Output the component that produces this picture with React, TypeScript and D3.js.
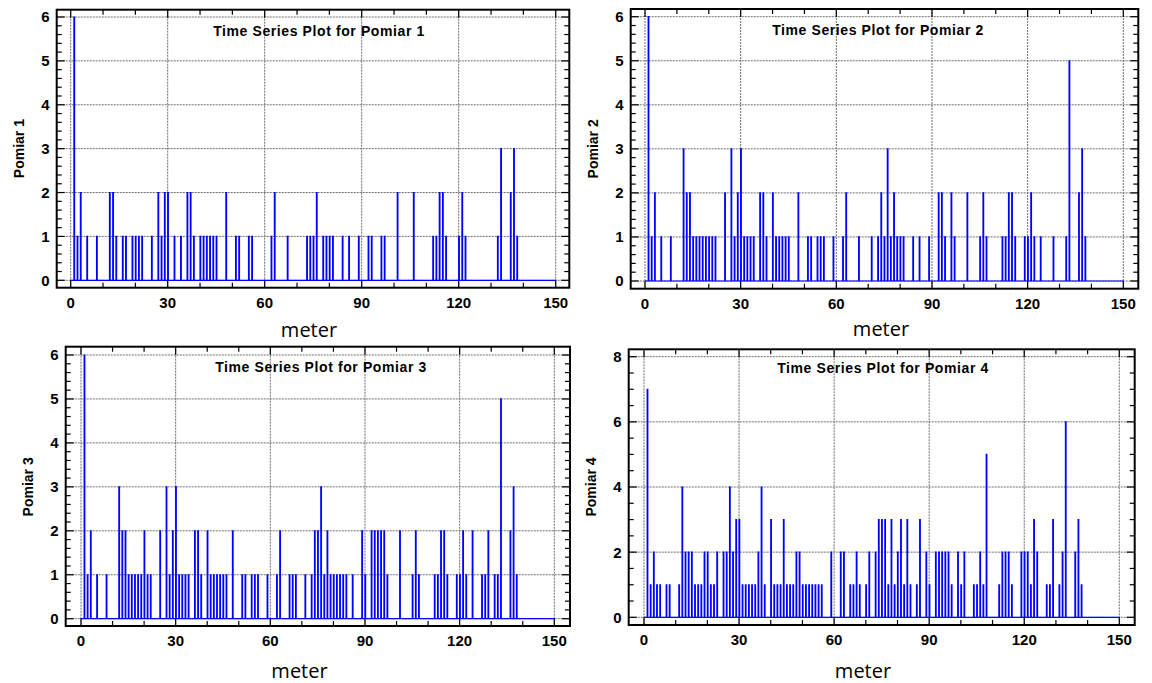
import React, { useEffect, useRef } from "react";
import * as d3 from "d3";

type Spike = [number, number]; // [meter, count]

const meterTicks = [0, 30, 60, 90, 120, 150];

const pomiar1: Spike[] = [
  [1, 6], [2, 1], [3, 2], [5, 1], [8, 1], [12, 2], [13, 2], [14, 1], [16, 1], [17, 1],
  [19, 1], [20, 1], [21, 1], [22, 1], [25, 1], [27, 2], [28, 1], [29, 2], [30, 2], [32, 1],
  [34, 1], [36, 2], [37, 2], [38, 1], [40, 1], [41, 1], [42, 1], [43, 1], [44, 1], [45, 1],
  [48, 2], [51, 1], [52, 1], [55, 1], [56, 1], [62, 1], [63, 2], [67, 1], [73, 1], [74, 1],
  [75, 1], [76, 2], [78, 1], [79, 1], [80, 1], [81, 1], [84, 1], [86, 1], [89, 1], [92, 1],
  [93, 1], [96, 1], [97, 1], [101, 2], [106, 2], [112, 1], [113, 1], [114, 2], [115, 2],
  [116, 1], [120, 1], [121, 2], [122, 1], [132, 1], [133, 3], [136, 2], [137, 3], [138, 1],
];

const pomiar2: Spike[] = [
  [1, 6], [2, 1], [3, 2], [5, 1], [8, 1], [12, 3], [13, 2], [14, 2], [15, 1], [16, 1],
  [17, 1], [18, 1], [19, 1], [20, 1], [21, 1], [22, 1], [25, 2], [27, 3], [28, 1], [29, 2],
  [30, 3], [31, 1], [32, 1], [33, 1], [34, 1], [36, 2], [37, 2], [38, 1], [40, 2], [41, 1],
  [42, 1], [43, 1], [44, 1], [45, 1], [48, 2], [51, 1], [52, 1], [54, 1], [55, 1], [56, 1],
  [59, 1], [62, 1], [63, 2], [67, 1], [71, 1], [73, 1], [74, 2], [75, 1], [76, 3], [77, 1],
  [78, 2], [79, 1], [80, 1], [81, 1], [84, 1], [86, 1], [89, 1], [92, 2], [93, 2], [94, 1],
  [96, 2], [97, 1], [101, 2], [105, 1], [106, 2], [107, 1], [112, 1], [113, 1], [114, 2],
  [115, 2], [116, 1], [119, 1], [120, 1], [121, 2], [122, 1], [124, 1], [128, 1], [132, 1],
  [133, 5], [136, 2], [137, 3], [138, 1],
];

const pomiar3: Spike[] = [
  [1, 6], [2, 1], [3, 2], [5, 1], [8, 1], [12, 3], [13, 2], [14, 2], [15, 1], [16, 1],
  [17, 1], [18, 1], [19, 1], [20, 2], [21, 1], [22, 1], [25, 2], [27, 3], [28, 1], [29, 2],
  [30, 3], [31, 1], [32, 1], [33, 1], [34, 1], [36, 2], [37, 2], [38, 1], [40, 2], [41, 1],
  [42, 1], [43, 1], [44, 1], [45, 1], [46, 1], [48, 2], [51, 1], [52, 1], [54, 1], [55, 1],
  [56, 1], [59, 1], [62, 1], [63, 2], [66, 1], [67, 1], [68, 1], [71, 1], [73, 1], [74, 2],
  [75, 2], [76, 3], [77, 1], [78, 2], [79, 1], [80, 1], [81, 1], [82, 1], [83, 1], [84, 1],
  [86, 1], [89, 2], [90, 1], [92, 2], [93, 2], [94, 2], [95, 2], [96, 2], [97, 1], [101, 2],
  [105, 1], [106, 2], [107, 1], [112, 1], [113, 1], [114, 2], [115, 2], [116, 1], [119, 1],
  [120, 1], [121, 2], [122, 1], [124, 2], [127, 1], [128, 1], [129, 2], [131, 1], [132, 1],
  [133, 5], [136, 2], [137, 3], [138, 1],
];

const pomiar4: Spike[] = [
  [1, 7], [2, 1], [3, 2], [4, 1], [5, 1], [7, 1], [8, 1], [11, 1], [12, 4], [13, 2],
  [14, 2], [15, 2], [16, 1], [17, 1], [18, 1], [19, 2], [20, 2], [21, 1], [22, 1], [23, 2],
  [25, 2], [26, 2], [27, 4], [28, 2], [29, 3], [30, 3], [31, 1], [32, 1], [33, 1], [34, 1],
  [35, 1], [36, 2], [37, 4], [38, 1], [40, 3], [41, 1], [42, 1], [43, 1], [44, 3], [45, 1],
  [46, 1], [47, 1], [48, 2], [49, 2], [50, 1], [51, 1], [52, 1], [53, 1], [54, 1], [55, 1],
  [56, 1], [59, 2], [62, 2], [63, 2], [65, 1], [66, 1], [67, 2], [68, 1], [70, 1], [71, 2],
  [73, 2], [74, 3], [75, 3], [76, 3], [77, 1], [78, 3], [79, 1], [80, 2], [81, 3], [82, 1],
  [83, 3], [84, 1], [86, 1], [87, 3], [89, 2], [90, 1], [92, 2], [93, 2], [94, 2], [95, 2],
  [96, 2], [97, 1], [99, 2], [100, 1], [101, 2], [104, 1], [105, 1], [106, 2], [107, 1],
  [108, 5], [112, 1], [113, 2], [114, 2], [115, 2], [116, 1], [119, 2], [120, 2], [121, 2],
  [122, 1], [123, 3], [124, 2], [127, 1], [128, 1], [129, 3], [131, 1], [132, 2], [133, 6],
  [136, 2], [137, 3], [138, 1],
];

interface PanelSpec {
  name: string;
  data: Spike[];
  yMax: number;
  yStep: number;
  yMinor: number;
  frame: [number, number, number, number]; // left, top, right, bottom
  plot: [number, number, number, number];
  titleX: number;
  titleY: number;
  meterX: number;
  meterY: number;
}

const panels: PanelSpec[] = [
  {
    name: "Pomiar 1", data: pomiar1, yMax: 6, yStep: 1, yMinor: 0.2,
    frame: [56.7, 9.7, 569.3, 287.7], plot: [70.7, 17, 555.7, 280.3],
    titleX: 319, titleY: 35.7, meterX: 309, meterY: 336.5,
  },
  {
    name: "Pomiar 2", data: pomiar2, yMax: 6, yStep: 1, yMinor: 0.2,
    frame: [630.7, 9, 1138.3, 288.7], plot: [645, 16.7, 1123.3, 281],
    titleX: 878, titleY: 35, meterX: 881, meterY: 336,
  },
  {
    name: "Pomiar 3", data: pomiar3, yMax: 6, yStep: 1, yMinor: 0.2,
    frame: [65.7, 346.7, 570, 626], plot: [81, 355, 554.3, 618.7],
    titleX: 321, titleY: 371.7, meterX: 299.5, meterY: 677.7,
  },
  {
    name: "Pomiar 4", data: pomiar4, yMax: 8, yStep: 2, yMinor: 0.5,
    frame: [628.7, 349.3, 1134.7, 625], plot: [644, 356.7, 1119.3, 617.3],
    titleX: 883, titleY: 372.7, meterX: 863, meterY: 678,
  },
];

const boldFont = "'Liberation Sans', Arial, sans-serif";

const App: React.FC = () => {
  const svgRef = useRef(null);

  useEffect(() => {
    if (!svgRef.current) return;
    const svg = d3.select(svgRef.current);
    svg.selectAll("*").remove();

    panels.forEach((p) => {
      const [fl, ft, fr, fb] = p.frame;
      const [pl, pt, pr, pb] = p.plot;
      const x = d3.scaleLinear().domain([0, 150]).range([pl, pr]);
      const y = d3.scaleLinear().domain([0, p.yMax]).range([pb, pt]);
      const g = svg.append("g");

      const yMajors = d3.range(0, p.yMax + 1e-6, p.yStep);
      const yMinors = d3.range(0, p.yMax + 1e-6, p.yMinor);
      const xMinors = d3.range(0, 151, 10);

      // grid
      const grid = g.append("g")
        .attr("stroke", "#6e6e6e")
        .attr("stroke-width", 1)
        .attr("stroke-dasharray", "2,1");
      meterTicks.forEach((m) => {
        grid.append("line")
          .attr("x1", x(m)).attr("x2", x(m))
          .attr("y1", ft).attr("y2", fb);
      });
      yMajors.forEach((v) => {
        grid.append("line")
          .attr("x1", fl).attr("x2", fr)
          .attr("y1", y(v)).attr("y2", y(v));
      });

      // ticks pointing inwards on all four sides
      const ticks = g.append("g").attr("stroke", "#000").attr("stroke-width", 1.2);
      yMinors.forEach((v) => {
        const isMajor = Math.abs(v / p.yStep - Math.round(v / p.yStep)) < 1e-6;
        const len = isMajor ? 8 : 5;
        ticks.append("line").attr("x1", fl).attr("x2", fl + len).attr("y1", y(v)).attr("y2", y(v));
        ticks.append("line").attr("x1", fr).attr("x2", fr - len).attr("y1", y(v)).attr("y2", y(v));
      });
      xMinors.forEach((m) => {
        const len = m % 30 === 0 ? 8 : 5;
        ticks.append("line").attr("x1", x(m)).attr("x2", x(m)).attr("y1", fb).attr("y2", fb - len);
        ticks.append("line").attr("x1", x(m)).attr("x2", x(m)).attr("y1", ft).attr("y2", ft + len);
      });

      // series
      const pts: [number, number][] = [[0, 0]];
      p.data.forEach(([m, v]) => {
        pts.push([m, 0], [m, v], [m + 0.2, v], [m + 0.2, 0]);
      });
      pts.push([150, 0]);
      const line = d3.line<[number, number]>()
        .x((d) => x(d[0]))
        .y((d) => y(d[1]));
      g.append("path")
        .attr("d", line(pts) as string)
        .attr("fill", "none")
        .attr("stroke", "#0000ff")
        .attr("stroke-width", 1.2);

      // frame
      g.append("rect")
        .attr("x", fl).attr("y", ft)
        .attr("width", fr - fl).attr("height", fb - ft)
        .attr("fill", "none")
        .attr("stroke", "#000")
        .attr("stroke-width", 2);

      // tick labels
      yMajors.forEach((v) => {
        g.append("text")
          .attr("x", fl - 7)
          .attr("y", y(v))
          .attr("dy", "0.36em")
          .attr("text-anchor", "end")
          .style("font-family", boldFont)
          .style("font-weight", "bold")
          .style("font-size", "15px")
          .text(v);
      });
      meterTicks.forEach((m) => {
        g.append("text")
          .attr("x", x(m))
          .attr("y", fb + 20)
          .attr("text-anchor", "middle")
          .style("font-family", boldFont)
          .style("font-weight", "bold")
          .style("font-size", "15px")
          .text(m);
      });

      // y axis title
      g.append("text")
        .attr("transform", `translate(${fl - 38},${(pt + pb) / 2}) rotate(-90)`)
        .attr("dy", "0.36em")
        .attr("text-anchor", "middle")
        .style("font-family", boldFont)
        .style("font-weight", "bold")
        .style("font-size", "14px")
        .text(p.name);

      // title
      g.append("text")
        .attr("x", p.titleX)
        .attr("y", p.titleY)
        .attr("text-anchor", "middle")
        .style("font-family", boldFont)
        .style("font-weight", "bold")
        .style("font-size", "14px")
        .style("letter-spacing", "0.6px")
        .text(`Time Series Plot for ${p.name}`);

      // x axis title
      g.append("text")
        .attr("x", p.meterX)
        .attr("y", p.meterY)
        .attr("text-anchor", "middle")
        .style("font-family", "'Open Sans', sans-serif")
        .style("font-size", "20px")
        .text("meter");
    });
  }, []);

  return (
    <svg
      ref={svgRef}
      width={1152}
      height={683}
      style={{ position: "absolute", left: 0, top: 0, background: "#fff" }}
    />
  );
};

export default App;
